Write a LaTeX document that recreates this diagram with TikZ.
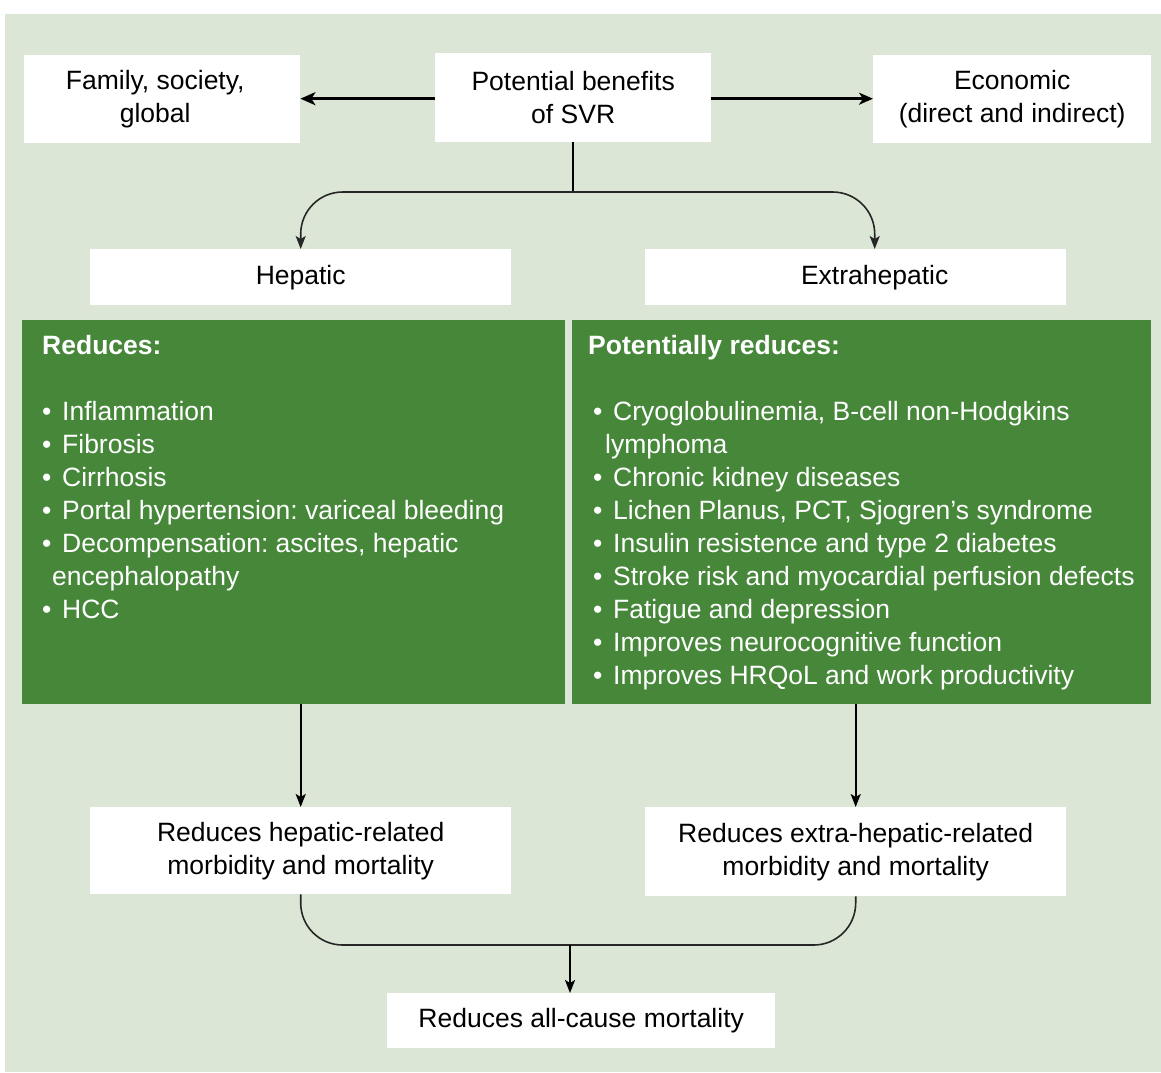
\documentclass[tikz,border=0pt]{standalone}
\usepackage{fontspec}
\setmainfont{Liberation Sans}
\usetikzlibrary{arrows.meta,calc}
\definecolor{bgg}{HTML}{DCE6D6}
\definecolor{dkg}{HTML}{46873A}
\frenchspacing
\begin{document}
\begin{tikzpicture}[x=1pt,y=-1pt,
  every node/.style={font=\fontsize{26.5}{33}\selectfont},
  wbox/.style={fill=white,draw=none,inner sep=0pt,anchor=north west,align=center},
  gbox/.style={fill=dkg,draw=none,inner sep=0pt,anchor=north west},
  gtext/.style={anchor=north west,inner sep=0pt,align=left,text=white},
  conn/.style={line width=1.6pt,draw=black!85},
  tip/.style={-{Stealth[length=13pt,width=10pt,inset=3pt]}}
]
\useasboundingbox (0,0) rectangle (1161,1072);
\fill[bgg] (5,14) rectangle (1161,1072);

\node[wbox,minimum width=276,minimum height=88] (fam) at (24,55) {\hspace*{-14pt}Family, society,\\\hspace*{-14pt}global};
\node[wbox,minimum width=276,minimum height=89] (pot) at (435,53) {Potential benefits\\of SVR};
\node[wbox,minimum width=278,minimum height=88] (eco) at (873,55) {Economic\\(direct and indirect)};
\node[wbox,minimum width=421,minimum height=56] (hep) at (90,249) {Hepatic};
\node[wbox,minimum width=421,minimum height=56] (ext) at (645,249) {\hspace*{38pt}Extrahepatic};

\node[gbox,minimum width=543,minimum height=384] (gl) at (22,320) {};
\node[gbox,minimum width=579,minimum height=384] (gr) at (572,320) {};

\node[gtext] (gltxt) at (42,335) {\textbf{Reduces:}\\
\mbox{}\\
\makebox[20pt][l]{•}Inflammation\\
\makebox[20pt][l]{•}Fibrosis\\
\makebox[20pt][l]{•}Cirrhosis\\
\makebox[20pt][l]{•}Portal hypertension: variceal bleeding\\
\makebox[20pt][l]{•}Decompensation: ascites, hepatic\\
\hspace*{10pt}encephalopathy\\
\makebox[20pt][l]{•}HCC};

\node[gtext] (grtxt) at (588,335) {\textbf{Potentially reduces:}\\
\mbox{}\\
\hspace*{5pt}\makebox[20pt][l]{•}Cryoglobulinemia, B-cell non-Hodgkins\\
\hspace*{17pt}lymphoma\\
\hspace*{5pt}\makebox[20pt][l]{•}Chronic kidney diseases\\
\hspace*{5pt}\makebox[20pt][l]{•}Lichen Planus, PCT, Sjogren’s syndrome\\
\hspace*{5pt}\makebox[20pt][l]{•}Insulin resistence and type 2 diabetes\\
\hspace*{5pt}\makebox[20pt][l]{•}Stroke risk and myocardial perfusion defects\\
\hspace*{5pt}\makebox[20pt][l]{•}Fatigue and depression\\
\hspace*{5pt}\makebox[20pt][l]{•}Improves neurocognitive function\\
\hspace*{5pt}\makebox[20pt][l]{•}Improves HRQoL and work productivity};

\node[wbox,minimum width=421,minimum height=87] (rh) at (90,807) {Reduces hepatic-related\\morbidity and mortality};
\node[wbox,minimum width=421,minimum height=89] (re) at (645,807) {Reduces extra-hepatic-related\\morbidity and mortality};
\node[wbox,minimum width=388,minimum height=55] (all) at (387,993) {Reduces all-cause mortality};

% top connectors
\draw[line width=3.5pt,-{Stealth[length=15pt,width=13pt,inset=4pt]}] ([yshift=-1pt]pot.west) -- ([yshift=-1pt]pot.west -| fam.east);
\draw[line width=2.6pt,-{Stealth[length=14pt,width=12pt,inset=4pt]}] ([yshift=-1pt]pot.east) -- ([yshift=-1pt]pot.east -| eco.west);
\coordinate (br) at (573,192);
\draw[line width=2.8pt] (pot.south -| br) -- (br);
\draw[conn,tip,rounded corners=42pt] (br) -| (hep.north);
\draw[conn,tip,rounded corners=42pt] (br) -| ([xshift=19pt]ext.north);

% green to bottom boxes
\draw[line width=2.2pt,tip] (gl.south -| rh.north) -- (rh.north);
\draw[line width=2pt,tip] (gr.south -| re.north) -- (re.north);

% merge
\coordinate (mg) at (570,945);
\draw[conn,rounded corners=42pt] (rh.south) |- (mg) -| (re.south);
\draw[line width=2pt,tip] (mg) -- (mg |- all.north);
\end{tikzpicture}
\end{document}
